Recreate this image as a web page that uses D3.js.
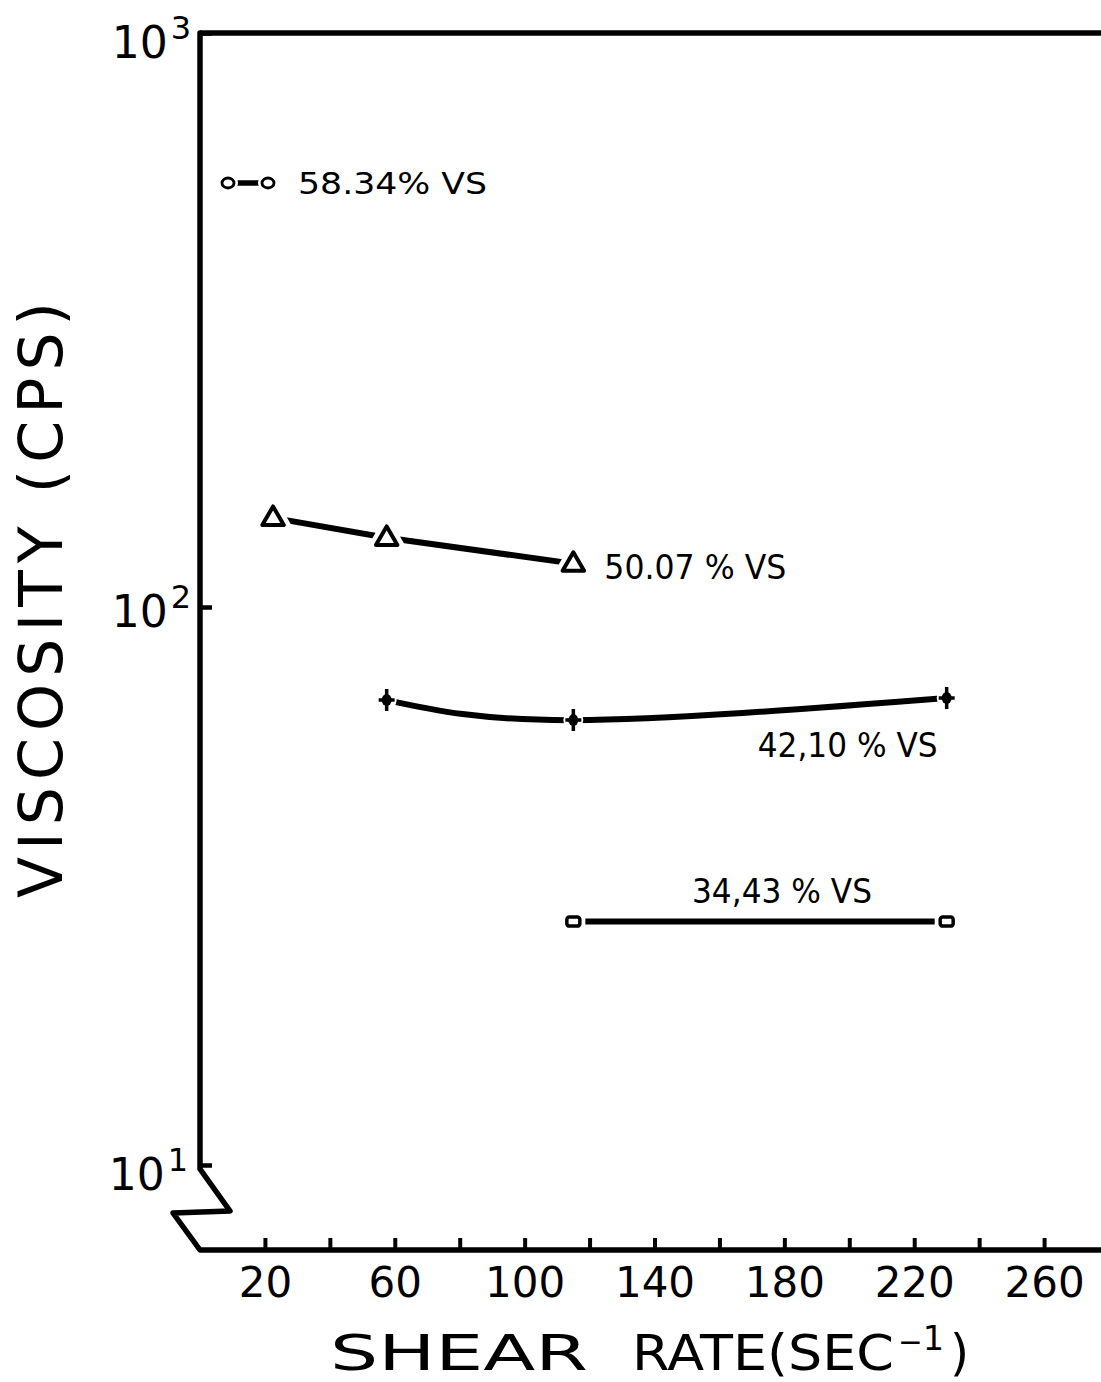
<!DOCTYPE html>
<html>
<head>
<meta charset="utf-8">
<script src="https://cdn.jsdelivr.net/npm/d3@7"></script>
<style>
  html, body { margin: 0; padding: 0; background: #fff; }
  svg { display: block; }
  text { font-family: "DejaVu Sans", sans-serif; fill: #000; }
</style>
</head>
<body>
<svg id="chart" width="1101" height="1382"></svg>
<script>
// Viscosity of the slurries against shear rate, one series per solids loading
const shear50 = [22.5, 57.5, 115];
const visc50  = [143, 132, 119];

const shear42 = [57.5, 115, 230];
const visc42  = [68.1, 62.7, 68.7];

const shear34 = [115, 230];
const visc34  = [27.3, 27.3];

const xTicks      = [20, 40, 60, 80, 100, 120, 140, 160, 180, 200, 220, 240, 260];
const xTickLabels = [20, 60, 100, 140, 180, 220, 260];
const yTicks      = [10, 100, 1000];
const yExponents  = ["1", "2", "3"];

const label58 = "58.34% VS";
const label50 = "50.07 % VS";
const label42 = "42,10 % VS";
const label34 = "34,43 % VS";

const svg = d3.select("#chart");

// Hand-drawn log axis: each decade is a little uneven, so the log scale is piecewise
const x = d3.scaleLinear().domain([0, 280]).range([200, 1109]);
const y = d3.scaleLog().domain([10, 100, 1000]).range([1165, 607, 33]);

const axisY = 1250;           // x axis sits below the axis break
const x0 = x(0), yTop = y(1000), yBot = y(10);

// Frame: left axis with the zig-zag break, bottom axis and top border
svg.append("path")
  .attr("d", `M${x0},${yTop} L${x0},${yBot + 4} L${x0 + 30},${yBot + 46} L${x0 - 27},${yBot + 48} L${x0},${axisY} L1105,${axisY}`)
  .attr("fill", "none").attr("stroke", "#000").attr("stroke-width", 5.5)
  .attr("stroke-linejoin", "round").attr("stroke-linecap", "round");
svg.append("path")
  .attr("d", `M${x0},${yTop} L1105,${yTop}`)
  .attr("stroke", "#000").attr("stroke-width", 5.5);

// Bottom axis ticks point into the plot
const xAxis = d3.axisBottom(x)
  .tickValues(xTicks)
  .tickSizeInner(-12).tickSizeOuter(0).tickPadding(17)
  .tickFormat(d => xTickLabels.includes(d) ? String(d) : "");
const gx = svg.append("g").attr("transform", `translate(0,${axisY})`).call(xAxis);
gx.select(".domain").remove();
gx.selectAll(".tick line").attr("stroke", "#000").attr("stroke-width", 4);
gx.selectAll(".tick text")
  .attr("font-family", "DejaVu Sans").attr("font-size", 42).attr("fill", "#000");

// Left axis ticks (right-pointing) with power-of-ten labels
const yAxis = d3.axisLeft(y).tickValues(yTicks).tickSizeInner(-12).tickSizeOuter(0).tickFormat("");
const gy = svg.append("g").attr("transform", `translate(${x0},0)`).call(yAxis);
gy.select(".domain").remove();
gy.selectAll(".tick line").attr("stroke", "#000").attr("stroke-width", 4.5);

const yLab = svg.append("g");
yTicks.forEach((v, i) => {
  const t = yLab.append("text")
    .attr("x", i === 0 ? 188 : 191)
    .attr("y", y(v) + (i === 1 ? 20 : 25))
    .attr("text-anchor", "end")
    .attr("font-size", 44);
  t.append("tspan").text("10");
  t.append("tspan").attr("font-size", 32).attr("dy", -19).attr("dx", 3).text(yExponents[i]);
});

// Axis titles
svg.append("text")
  .attr("transform", "translate(62,600) rotate(-90)")
  .attr("text-anchor", "middle")
  .attr("font-size", 60)
  .attr("textLength", 596)
  .text("VISCOSITY (CPS)");

const xTitle = svg.append("g").attr("font-size", 49);
xTitle.append("text").attr("x", 330).attr("y", 1370)
  .attr("textLength", 258).attr("lengthAdjust", "spacingAndGlyphs").text("SHEAR");
xTitle.append("text").attr("x", 632).attr("y", 1370)
  .attr("textLength", 262).attr("lengthAdjust", "spacingAndGlyphs").text("RATE(SEC");
const sup = xTitle.append("text").attr("x", 898).attr("y", 1350).attr("font-size", 30)
  .attr("textLength", 46).attr("lengthAdjust", "spacingAndGlyphs");
sup.append("tspan").attr("dy", 2).text("\u2212");
sup.append("tspan").attr("dy", -2).attr("font-size", 34).text("1");
xTitle.append("text").attr("x", 950).attr("y", 1370).text(")");

// Series lines
const plot = svg.append("g");
const lineStyle = sel => sel.attr("fill", "none").attr("stroke", "#000")
  .attr("stroke-width", 6).attr("stroke-linecap", "round");

const pts50 = shear50.map((s, i) => [x(s), y(visc50[i])]);
const pts42 = shear42.map((s, i) => [x(s), y(visc42[i])]);
const pts34 = shear34.map((s, i) => [x(s), y(visc34[i])]);

plot.append("path").attr("d", d3.line()(pts50)).call(lineStyle);
plot.append("path").attr("d", d3.line().curve(d3.curveNatural)(pts42)).call(lineStyle);
plot.append("path").attr("d", d3.line()(pts34)).call(lineStyle);

// Markers: a white halo under each one leaves a small gap in the line
function marker(g, path, strokeW, fill) {
  g.append("path").attr("d", path).attr("fill", "#fff").attr("stroke", "#fff").attr("stroke-width", 13);
  g.append("path").attr("d", path).attr("fill", fill).attr("stroke", "#000")
    .attr("stroke-width", strokeW).attr("stroke-linejoin", "round");
}
const tri = d3.symbol().type(d3.symbolTriangle).size(200)();
pts50.forEach(([px, py]) => {
  const g = plot.append("g").attr("transform", `translate(${px},${py + 1})`);
  marker(g, tri, 4, "#fff");
});

const plusPath = "M0,-11 L0,11 M-8,0 L8,0";
pts42.forEach(([px, py]) => {
  const g = plot.append("g").attr("transform", `translate(${px},${py})`);
  g.append("circle").attr("r", 10).attr("fill", "#fff");
  g.append("path").attr("d", plusPath).attr("stroke", "#000").attr("stroke-width", 3.5);
  g.append("ellipse").attr("rx", 5).attr("ry", 6).attr("fill", "#000");
});

pts34.forEach(([px, py]) => {
  const g = plot.append("g").attr("transform", `translate(${px},${py})`);
  g.append("rect").attr("x", -12).attr("y", -9).attr("width", 24).attr("height", 18).attr("fill", "#fff");
  g.append("rect").attr("x", -6.5).attr("y", -4.5).attr("width", 13).attr("height", 9)
    .attr("rx", 2.5).attr("fill", "#fff").attr("stroke", "#000").attr("stroke-width", 3.5);
});

// Series labels
const lab = svg.append("g").attr("font-size", 33);
lab.append("text").attr("x", x(115) + 31).attr("y", y(119) + 15)
  .attr("textLength", 182).attr("lengthAdjust", "spacingAndGlyphs").text(label50);
lab.append("text").attr("x", x(230) - 9).attr("y", y(68.7) + 59)
  .attr("text-anchor", "end").attr("textLength", 180).attr("lengthAdjust", "spacingAndGlyphs").text(label42);
lab.append("text").attr("x", 692).attr("y", y(27.3) - 19)
  .attr("textLength", 180).attr("lengthAdjust", "spacingAndGlyphs").text(label34);

// Key for the 58.34 % sample
const key = svg.append("g").attr("transform", "translate(228,183)");
key.append("line").attr("x1", 8).attr("x2", 32).attr("stroke", "#000").attr("stroke-width", 5.5);
[0, 40].forEach(cx => {
  key.append("ellipse").attr("cx", cx).attr("rx", 10).attr("ry", 9).attr("fill", "#fff");
  key.append("ellipse").attr("cx", cx).attr("rx", 6).attr("ry", 5)
    .attr("fill", "#fff").attr("stroke", "#000").attr("stroke-width", 2.8);
});
key.append("text").attr("x", 70).attr("y", 11).attr("font-size", 31)
  .attr("textLength", 189).attr("lengthAdjust", "spacingAndGlyphs").text(label58);
</script>
</body>
</html>
